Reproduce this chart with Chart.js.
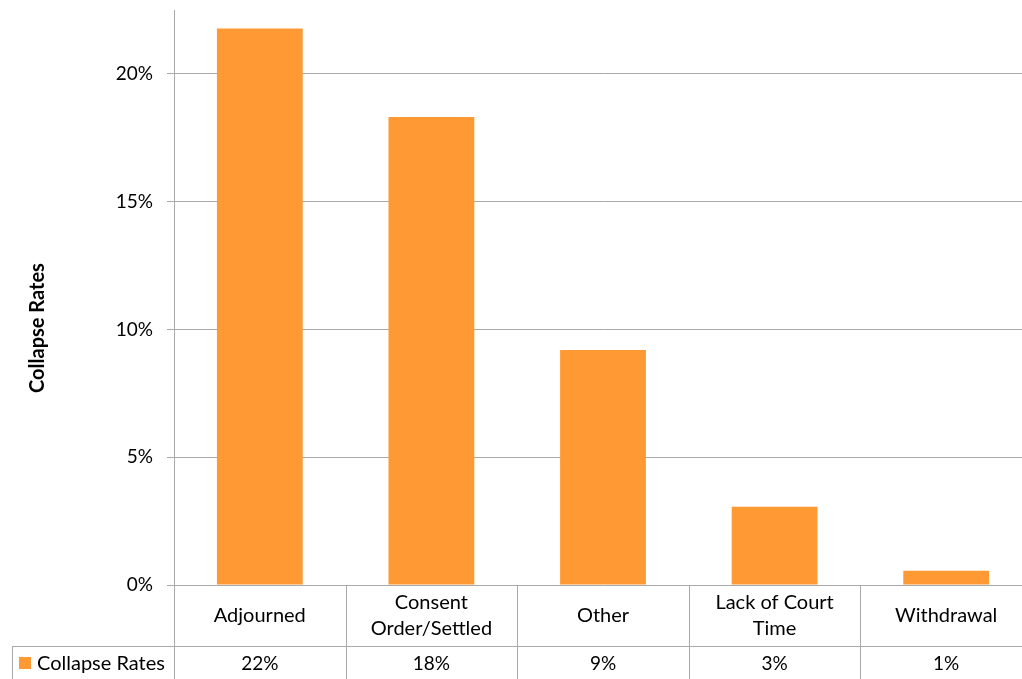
<!DOCTYPE html>
<html>
<head>
<meta charset="utf-8">
<title>Collapse Rates</title>
<script src="https://cdn.jsdelivr.net/npm/chart.js@4/dist/chart.umd.min.js"></script>
<style>
    html, body { margin: 0; padding: 0; background: #fff; overflow: hidden; }
    #wrap { width: 1040px; height: 700px; position: relative; }
</style>
</head>
<body>
<div id="wrap"><canvas id="collapseChart"></canvas></div>
<script>
// Data
const categories = [['Adjourned'], ['Consent', 'Order/Settled'], ['Other'], ['Lack of Court', 'Time'], ['Withdrawal']];
const collapseRates = [21.78, 18.31, 9.2, 3.06, 0.56];
const yTicks = [0, 5, 10, 15, 20];
const seriesName = 'Collapse Rates';

const barColor = '#ff9933';
const lineColor = '#a9a9a9';
const fontFamily = 'Lato, "Open Sans", sans-serif';

// Data table under the plot + rotated axis title
const tablePlugin = {
    id: 'dataTable',
    afterDraw(chart) {
        const ctx = chart.ctx;
        const area = chart.chartArea;
        const x = chart.scales.x;
        const step = (area.right - area.left) / categories.length;
        const row1 = area.bottom;
        const row2 = row1 + 61;
        const bottom = chart.height;

        ctx.save();
        ctx.strokeStyle = lineColor;
        ctx.lineWidth = 1;
        ctx.beginPath();
        for (let i = 0; i <= categories.length; i++) {
            const bx = Math.round(area.left + i * step) + 0.5;
            ctx.moveTo(bx, row1);
            ctx.lineTo(bx, bottom);
        }
        ctx.moveTo(12.5, row2);
        ctx.lineTo(12.5, bottom);
        ctx.moveTo(12, row2 + 0.5);
        ctx.lineTo(chart.width, row2 + 0.5);
        ctx.stroke();

        ctx.fillStyle = '#000';
        ctx.textAlign = 'center';
        ctx.textBaseline = 'middle';
        categories.forEach((lines, i) => {
            const cx = x.getPixelForValue(i);
            const lh = 26;
            const y0 = row1 + 31 - (lines.length - 1) * lh / 2;
            ctx.font = '20px ' + fontFamily;
            lines.forEach((t, j) => ctx.fillText(t, cx, y0 + j * lh));
            ctx.font = '19px ' + fontFamily;
            ctx.fillText(Math.round(collapseRates[i]) + '%', cx, row2 + 18);
        });

        // legend key in the data table
        ctx.fillStyle = barColor;
        ctx.fillRect(19, row2 + 11, 12, 12);
        ctx.fillStyle = '#000';
        ctx.textAlign = 'left';
        ctx.font = '20px ' + fontFamily;
        ctx.fillText(seriesName, 37, row2 + 18);

        // axis title
        ctx.translate(38, (area.top + row2) / 2);
        ctx.rotate(-Math.PI / 2);
        ctx.textAlign = 'center';
        ctx.font = 'bold 20px ' + fontFamily;
        ctx.fillText(seriesName, 0, 0);
        ctx.restore();
    }
};

const ctx = document.getElementById('collapseChart').getContext('2d');
const collapseChart = new Chart(ctx, {
    type: 'bar',
    data: {
        labels: categories,
        datasets: [{
            label: seriesName,
            data: collapseRates,
            backgroundColor: barColor,
            barPercentage: 0.5,
            categoryPercentage: 1
        }]
    },
    options: {
        responsive: true,
        maintainAspectRatio: false,
        animation: false,
        layout: {
            padding: { top: 10, right: 8, bottom: 115, left: 0 }
        },
        plugins: {
            legend: { display: false },
            tooltip: { enabled: false }
        },
        scales: {
            x: { display: false },
            y: {
                min: 0,
                max: 22.5,
                afterBuildTicks: (scale) => {
                    scale.ticks = yTicks.map(v => ({ value: v }));
                },
                afterFit: (scale) => {
                    scale.width = 174;
                    scale.paddingTop = 0;
                    scale.paddingBottom = 0;
                },
                ticks: {
                    padding: 14,
                    color: '#000',
                    font: { family: fontFamily, size: 19 },
                    callback: (v) => v + '%'
                },
                grid: { color: lineColor, tickLength: 7 },
                border: { color: lineColor }
            }
        }
    },
    plugins: [tablePlugin]
});
</script>
</body>
</html>
